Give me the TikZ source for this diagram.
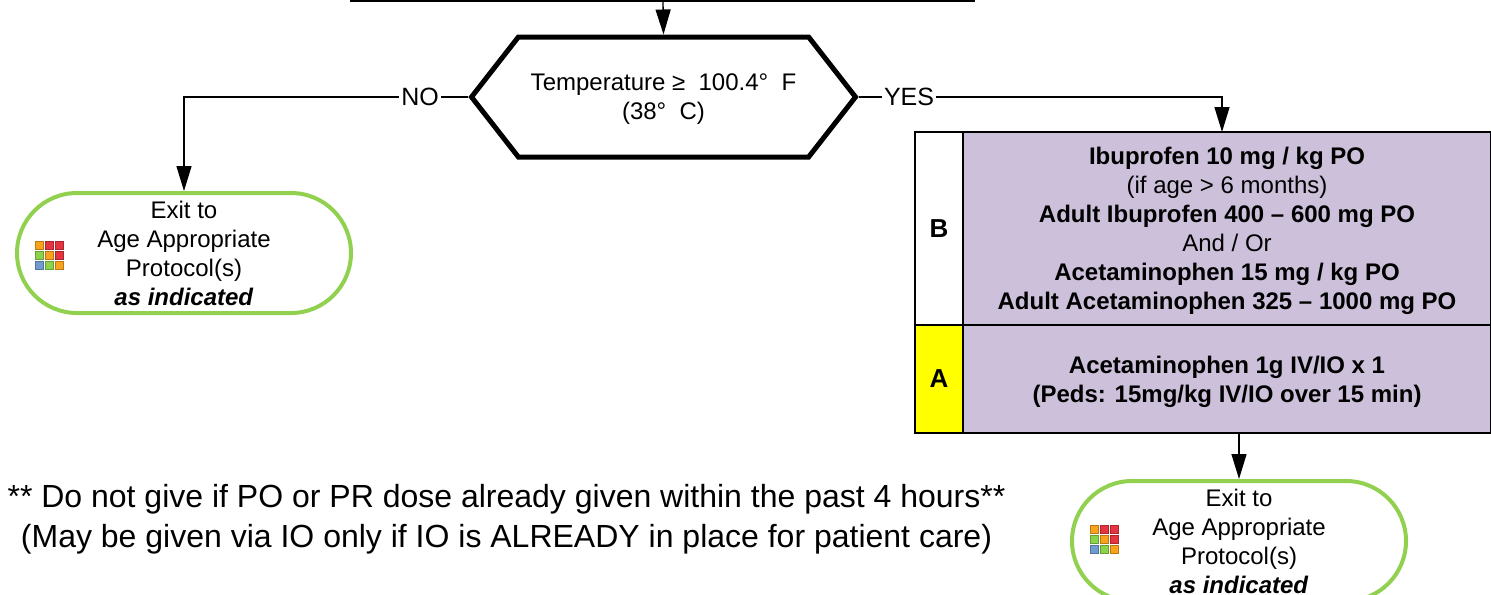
\documentclass[tikz,border=0pt]{standalone}
\usepackage{fontspec}
\setmainfont{Liberation Sans}
\usetikzlibrary{arrows.meta,calc,shapes.misc,shapes.symbols}
\definecolor{exitgreen}{HTML}{92D050}
\definecolor{dosepurple}{HTML}{CCC0DA}
\definecolor{levelyellow}{HTML}{FFFF00}
\definecolor{iconorange}{HTML}{F9A21B}
\definecolor{iconred}{HTML}{E5333F}
\definecolor{icongreen}{HTML}{8BD34B}
\definecolor{iconblue}{HTML}{6F9BD1}
\newcommand{\toprule}[1]{\rule{0pt}{#1}}
\tikzset{
    flow/.style={line width=0.65pt,-{Triangle[length=12.5pt,width=7.5pt]}},
    plain/.style={line width=0.65pt},
    label/.style={fill=white,inner sep=1pt,font=\fontsize{12.5}{15}\selectfont},
    decision/.style={draw,line width=2.5pt,signal,signal to=east and west,signal pointer angle=104,
        minimum width=192pt,minimum height=60pt,inner sep=0pt,align=center,
        font=\fontsize{12}{14.5}\selectfont},
    exitbox/.style={draw=exitgreen,line width=2pt,rounded rectangle,minimum width=167pt,minimum height=60pt,
        inner sep=0pt,align=center,font=\fontsize{12}{14.5}\selectfont},
    levelcell/.style={draw,line width=0.8pt,minimum width=24pt,inner sep=0pt,font=\bfseries\fontsize{13}{15}\selectfont},
    dosecell/.style={draw,line width=0.8pt,fill=dosepurple,minimum width=264pt,inner sep=0pt,align=center,
        font=\bfseries\fontsize{12}{14.5}\selectfont},
    warning/.style={align=center,inner sep=0pt,font=\fontsize{16}{20}\selectfont},
    gridicon/.pic={
        \foreach \shade [count=\i from 0] in {iconorange,iconred,iconred,icongreen,iconorange,iconred,iconblue,icongreen,iconorange}
            \fill[\shade,draw=\shade!75!black,line width=0.3pt]
                ({-14+10*int(mod(\i,3))},{-14+10*int(\i/3)}) rectangle +(8,8);
    }
}
\begin{document}
\begin{tikzpicture}[x=0.5pt,y=-0.5pt]
        \useasboundingbox (0,0) rectangle (1491,594);
        \coordinate (topleft) at (350,1);
        \coordinate (topright) at (975,1);
        \coordinate (topdrop) at (663,1);
        \coordinate (yesdrop) at (1222,132);
        \draw[line width=1pt] (topleft) -- (topright);
        \node[decision] (temp) at (663.5,97) {\toprule{10.8pt}Temperature ≥ \ 100.4°\ \ F\\(38°\ \ C)};
        \node[label] (no) at (420,97) {NO};
        \node[label] (yes) at (909,97) {YES};
        \node[exitbox] (exitleft) at (184,253) {Exit to\\Age Appropriate\\Protocol(s)\\\textbf{\textit{as indicated}}};
        \node[exitbox] (exitright) at (1239,541) {Exit to\\Age Appropriate\\Protocol(s)\\\textbf{\textit{as indicated}}};
        \pic at (49,255) {gridicon};
        \pic at (1104,539) {gridicon};
        \node[levelcell,fill=white,minimum height=96.5pt] (levelB) at (939,228.5) {B};
        \node[levelcell,fill=levelyellow,minimum height=54pt] (levelA) at (939,379) {A};
        \node[dosecell,minimum height=96.5pt] (doseB) at (1227,228.5) {\toprule{11.3pt}Ibuprofen 10 mg / kg PO\\
            \mdseries (if age > 6 months)\\Adult Ibuprofen 400 – 600 mg PO\\\mdseries And / Or\\
            Acetaminophen 15 mg / kg PO\\Adult Acetaminophen 325 – 1000 mg PO};
        \node[dosecell,minimum height=54pt] (doseA) at (1227,379) {\toprule{11.3pt}Acetaminophen 1g IV/IO x 1\\(Peds: 15mg/kg IV/IO over 15 min)};
        \node[warning] (warn) at (506.5,519) {** Do not give if PO or PR dose already given within the past 4 hours**\\
            (May be given via IO only if IO is ALREADY in place for patient care)};
        \draw[flow] (topdrop) -- (temp.north);
        \draw[plain] (temp.west) -- (no);
        \draw[flow] (no) -| (exitleft.north);
        \draw[plain] (temp.east) -- (yes);
        \draw[flow] (yes) -| (yesdrop);
        \draw[flow] (doseA.south -| exitright.north) -- (exitright.north);
    \end{tikzpicture}
\end{document}
